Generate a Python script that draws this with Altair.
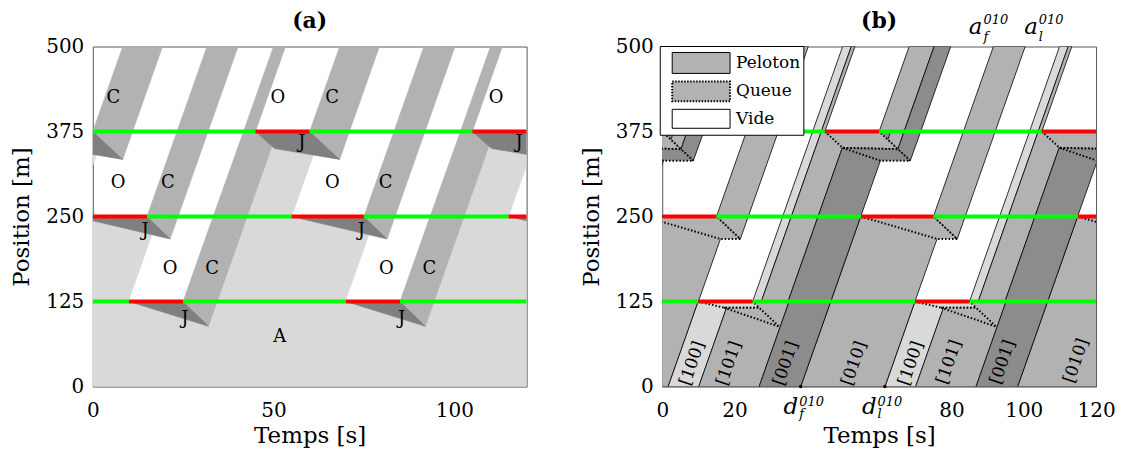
import altair as alt
import pandas as pd

W, H = 435, 341
FONT = "DejaVu Serif"
T_DOM = [0, 120]
P_DOM = [0, 500]

# ---------------- signals (same plan in both panels) ----------------
SIG_POS = [125, 250, 375]
RED_START = [[10, 70], [-5, 55, 115], [-15, 45, 105]]
RED_END = [[25, 85], [15, 75, 135], [0, 60, 120]]

# ---------------- panel (a) regions, vertices as (time s, position m) ----------------
A_LIGHT = [
    [(0, 0), (120, 0), (120, 250), (0, 250)],
    [(42.7, 250), (55, 250), (63.3, 375), (51, 375)],
    [(102.7, 250), (115, 250), (123.3, 375), (111, 375)],
    [(-17.3, 250), (-5, 250), (3.3, 375), (-9, 375)],
]
A_WHITE = [
    [(10, 125), (25, 125), (33.3, 250), (18.3, 250)],
    [(70, 125), (85, 125), (93.3, 250), (78.3, 250)],
]
A_MED = [
    [(25, 125), (32, 88.6), (34.4, 125)],
    [(85, 125), (92, 88.6), (94.4, 125)],
    [(25, 125), (34.4, 125), (42.7, 250), (33.3, 250)],
    [(85, 125), (94.4, 125), (102.7, 250), (93.3, 250)],
    [(15, 250), (21.4, 217), (23.6, 250)],
    [(75, 250), (81.4, 217), (83.6, 250)],
    [(15, 250), (23.6, 250), (31.9, 375), (23.3, 375)],
    [(33.3, 250), (42.7, 250), (51, 375), (41.7, 375)],
    [(75, 250), (83.6, 250), (91.9, 375), (83.3, 375)],
    [(93.3, 250), (102.7, 250), (111, 375), (101.7, 375)],
    [(0, 375), (8.3, 334), (11, 375)],
    [(60, 375), (68.3, 334), (71, 375)],
    [(0, 375), (11, 375), (19.3, 500), (8.3, 500)],
    [(23.3, 375), (31.9, 375), (40.2, 500), (31.6, 500)],
    [(41.7, 375), (45, 375), (53.3, 500), (50, 500)],
    [(60, 375), (71, 375), (79.3, 500), (68.3, 500)],
    [(83.3, 375), (91.9, 375), (100.2, 500), (91.6, 500)],
    [(101.7, 375), (105, 375), (113.3, 500), (110, 500)],
]
A_DARK = [
    [(10, 125), (25, 125), (32, 88.6)],
    [(70, 125), (85, 125), (92, 88.6)],
    [(-5, 250), (15, 250), (21.4, 217)],
    [(55, 250), (75, 250), (81.4, 217)],
    [(115, 250), (135, 250), (141.4, 217)],
    [(-15, 375), (-9.7, 350), (8.3, 334), (0, 375)],
    [(45, 375), (50.3, 350), (68.3, 334), (60, 375)],
    [(105, 375), (110.3, 350), (128.3, 334), (120, 375)],
]
A_LBL = ["C", "O", "C", "O", "O", "C", "O", "C", "J", "J", "J", "J",
         "O", "C", "O", "C", "J", "J", "A"]
A_LBL_T = [5.7, 51.2, 66.2, 111.6, 7.0, 20.8, 66.3, 81.0, 14.5, 74.3, 57.8, 117.9,
           21.4, 33.0, 81.2, 93.1, 25.5, 85.4, 51.7]
A_LBL_P = [424, 424, 424, 424, 299, 299, 299, 299, 229, 229, 358, 358,
           173.5, 173.5, 173.5, 173.5, 100, 100, 72.5]

# ---------------- panel (b) platoons ----------------
B_LIGHT = [  # [100]
    [(1.6, 0), (10.1, 0), (18.4, 125), (9.9, 125)],
    [(61.6, 0), (70.1, 0), (78.4, 125), (69.9, 125)],
    [(25, 125), (26.8, 116), (27.4, 125)],
    [(85, 125), (86.8, 116), (87.4, 125)],
    [(25, 125), (27.4, 125), (35.7, 250), (33.3, 250)],
    [(85, 125), (87.4, 125), (95.7, 250), (93.3, 250)],
    [(33.3, 250), (35.7, 250), (44, 375), (41.6, 375)],
    [(93.3, 250), (95.7, 250), (104, 375), (101.6, 375)],
    [(41.6, 375), (44, 375), (52.3, 500), (49.9, 500)],
    [(101.6, 375), (104, 375), (112.3, 500), (109.9, 500)],
]
B_MED = [  # [010] and [101]
    [(-21.7, 0), (1.6, 0), (9.9, 125), (-13.4, 125)],
    [(38.3, 0), (61.6, 0), (69.9, 125), (46.6, 125)],
    [(98.3, 0), (121.6, 0), (129.9, 125), (106.6, 125)],
    [(10.1, 0), (26.8, 0), (35.1, 125), (18.4, 125)],
    [(70.1, 0), (86.8, 0), (95.1, 125), (78.4, 125)],
    [(-13.4, 125), (10, 125), (18.3, 250), (-5, 250)],
    [(46.6, 125), (69.9, 125), (78.2, 250), (54.9, 250)],
    [(106.6, 125), (129.9, 125), (138.2, 250), (114.9, 250)],
    [(27.4, 125), (34.8, 125), (43.1, 250), (35.7, 250)],
    [(87.4, 125), (94.8, 125), (103.1, 250), (95.7, 250)],
    [(15, 250), (21.6, 217), (23.8, 250)],
    [(75, 250), (81.6, 217), (83.8, 250)],
    [(15, 250), (23.8, 250), (32.1, 375), (23.3, 375)],
    [(75, 250), (83.8, 250), (92.1, 375), (83.3, 375)],
    [(35.7, 250), (43.1, 250), (51.4, 375), (44, 375)],
    [(95.7, 250), (103.1, 250), (111.4, 375), (104, 375)],
    [(0, 375), (5.2, 349), (6.9, 375)],
    [(60, 375), (65.2, 349), (66.9, 375)],
    [(0, 375), (6.9, 375), (15.2, 500), (8.3, 500)],
    [(60, 375), (66.9, 375), (75.2, 500), (68.3, 500)],
    [(44, 375), (45, 375), (53.3, 500), (52.3, 500)],
    [(104, 375), (105, 375), (113.3, 500), (112.3, 500)],
    [(23.3, 375), (32.1, 375), (40.4, 500), (31.6, 500)],
    [(83.3, 375), (92.1, 375), (100.4, 500), (91.6, 500)],
]
B_DARK = [  # [001]
    [(26.8, 0), (38.3, 0), (46.6, 125), (35.1, 125)],
    [(86.8, 0), (98.3, 0), (106.6, 125), (95.1, 125)],
    [(34.8, 125), (46.6, 125), (54.9, 250), (43.1, 250)],
    [(94.8, 125), (106.6, 125), (114.9, 250), (103.1, 250)],
    [(43.1, 250), (54.9, 250), (63.2, 375), (51.4, 375)],
    [(103.1, 250), (114.9, 250), (123.2, 375), (111.4, 375)],
    [(-16.9, 250), (-5.1, 250), (3.2, 375), (-8.6, 375)],
    [(5.2, 349), (8.6, 332), (11.5, 375), (6.9, 375)],
    [(65.2, 349), (68.6, 332), (71.5, 375), (66.9, 375)],
    [(6.9, 375), (11.5, 375), (19.8, 500), (15.2, 500)],
    [(66.9, 375), (71.5, 375), (79.8, 500), (75.2, 500)],
]
# queues (dotted outlines)
BQ_LIGHT = [
    [(10, 125), (17.1, 116), (26.8, 116), (25, 125)],
    [(70, 125), (77.1, 116), (86.8, 116), (85, 125)],
]
BQ_MED = [
    [(17.1, 116), (32.4, 88), (26.8, 116)],
    [(77.1, 116), (92.4, 88), (86.8, 116)],
    [(-5, 250), (16.1, 217), (21.6, 217), (15, 250)],
    [(55, 250), (76.1, 217), (81.6, 217), (75, 250)],
    [(115, 250), (136.1, 217), (141.6, 217), (135, 250)],
    [(-15, 375), (-10.1, 351), (5.2, 349), (0, 375)],
    [(45, 375), (49.9, 351), (65.2, 349), (60, 375)],
    [(105, 375), (109.9, 351), (125.2, 349), (120, 375)],
]
BQ_DARK = [
    [(-10.1, 351), (0.4, 332), (8.6, 332), (5.2, 349)],
    [(49.9, 351), (60.4, 332), (68.6, 332), (65.2, 349)],
    [(109.9, 351), (120.4, 332), (128.6, 332), (125.2, 349)],
]
B_LBL = ["[100]", "[101]", "[001]", "[010]", "[100]", "[101]", "[001]", "[010]"]
B_LBL_T = [8.3, 18.5, 34.2, 53.1, 68.8, 79.4, 94.2, 114.5]
B_LBL_P = [34, 34, 34, 34, 34, 36, 36, 38]

# markers on axes of (b)
D_MARK_T = [38.3, 61.6]
D_TXT_T = [37.6, 59.3]
D_SUB = ["f", "l"]
A_TXT_T = [88.6, 103.9]
A_SUB = ["f", "l"]

PANEL_TITLES = ["(a)", "(b)"]

LIGHT, MED, DARK_A, DARK_B = "#d9d9d9", "#b2b2b2", "#808080", "#8c8c8c"


def poly_df(polys):
    rows = []
    for i, p in enumerate(polys):
        pts = list(p) + [p[0]]
        for k, (t, y) in enumerate(pts):
            rows.append({"pid": i, "k": k, "t": t, "pos": y})
    return pd.DataFrame(rows)


def signal_df():
    rows = []
    for pos, rs, re in zip(SIG_POS, RED_START, RED_END):
        reds = sorted((max(a, 0), min(b, 120)) for a, b in zip(rs, re) if b > 0 and a < 120)
        cur = 0
        for a, b in reds:
            if a > cur:
                rows.append({"t": cur, "t2": a, "pos": pos, "c": "#00ff00"})
            rows.append({"t": a, "t2": b, "pos": pos, "c": "#ff0000"})
            cur = b
        if cur < 120:
            rows.append({"t": cur, "t2": 120, "pos": pos, "c": "#00ff00"})
    return pd.DataFrame(rows)


def x_enc(values):
    return alt.X("t:Q", scale=alt.Scale(domain=T_DOM, nice=False, zero=False),
                 axis=alt.Axis(values=values, title="Temps [s]", ticks=False, domain=False,
                               grid=False, labelFont=FONT, labelFontSize=20, titleFont=FONT,
                               titleFontSize=23, titleFontWeight="normal", labelPadding=14,
                               titlePadding=4, labelFlush=False, labelColor="black",
                               titleColor="black"))


Y_ENC = alt.Y("pos:Q", scale=alt.Scale(domain=P_DOM, nice=False, zero=False),
              axis=alt.Axis(values=[0, 125, 250, 375, 500], title="Position [m]", ticks=False,
                            domain=False, grid=False, labelFont=FONT, labelFontSize=20,
                            titleFont=FONT, titleFontSize=23, titleFontWeight="normal",
                            labelPadding=9, titlePadding=12, labelFlush=False,
                            labelColor="black", titleColor="black"))


def poly_layer(polys, fill, xe, stroke=None, sw=0.6, dash=None):
    kw = dict(fill=fill, stroke=stroke if stroke else fill, strokeWidth=sw, clip=True)
    if dash:
        kw["strokeDash"] = dash
    return alt.Chart(poly_df(polys)).mark_line(**kw).encode(
        x=xe, y=Y_ENC, detail="pid:N", order="k:Q")


def signal_layer(xe):
    return alt.Chart(signal_df()).mark_rule(strokeWidth=4, clip=True).encode(
        x=xe, x2="t2:Q", y=Y_ENC, color=alt.Color("c:N", scale=None))


one = pd.DataFrame({"k": [0]})


def title_layer(txt):
    return alt.Chart(one).mark_text(
        font=FONT, fontSize=22, fontWeight="bold", color="black", align="center",
        baseline="alphabetic", text=txt).encode(x=alt.value(W / 2), y=alt.value(-19))


# ---------------- panel (a) ----------------
xa = x_enc([0, 50, 100])
a_labels = alt.Chart(pd.DataFrame({"t": A_LBL_T, "pos": A_LBL_P, "s": A_LBL})).mark_text(
    font=FONT, fontSize=18, color="black").encode(x=xa, y=Y_ENC, text="s:N")

panel_a = alt.layer(
    poly_layer(A_LIGHT, LIGHT, xa),
    poly_layer(A_WHITE, "white", xa),
    poly_layer(A_MED, MED, xa),
    poly_layer(A_DARK, DARK_A, xa),
    signal_layer(xa),
    a_labels,
    title_layer(PANEL_TITLES[0]),
).properties(width=W, height=H)

# ---------------- panel (b) ----------------
xb = x_enc([0, 20, 80, 100, 120])

b_labels = alt.Chart(pd.DataFrame({"t": B_LBL_T, "pos": B_LBL_P, "s": B_LBL})).mark_text(
    font=FONT, fontSize=17, color="black", angle=289).encode(x=xb, y=Y_ENC, text="s:N")

dots = alt.Chart(pd.DataFrame({"t": D_MARK_T, "pos": [0, 0]})).mark_point(
    filled=True, color="black", size=12, opacity=1).encode(x=xb, y=Y_ENC)

dfd = pd.DataFrame({"t": D_TXT_T, "s": D_SUB, "m": ["d", "d"], "sup": ["010", "010"]})
dfa = pd.DataFrame({"t": A_TXT_T, "s": A_SUB, "m": ["a", "a"], "sup": ["010", "010"]})


def txt(df, field, size, align, yv, dx=0):
    return alt.Chart(df).mark_text(font=FONT, fontSize=size, fontStyle="italic", align=align,
                                   baseline="alphabetic", dx=dx, color="black").encode(
        x=xb, y=alt.value(yv), text=f"{field}:N")


annots = [
    txt(dfd, "m", 23, "right", H + 27),
    txt(dfd, "sup", 13, "left", H + 19, 1),
    txt(dfd, "s", 13, "left", H + 32, 1),
    txt(dfa, "m", 23, "right", -13),
    txt(dfa, "sup", 13, "left", -23, 1),
    txt(dfa, "s", 13, "left", -6, 1),
]


def lrect(x0, x1, y0, y1, fill, dash=None, sw=1):
    kw = dict(fill=fill, stroke="black", strokeWidth=sw)
    if dash:
        kw["strokeDash"] = dash
    return alt.Chart(one).mark_rect(**kw).encode(
        x=alt.value(x0), x2=alt.value(x1), y=alt.value(y0), y2=alt.value(y1))


LEG_TXT = ["Peloton", "Queue", "Vide"]
leg_layers = [
    lrect(-2, 142, 0, 89, "white"),
    lrect(10, 68, 6, 27, MED),
    lrect(10, 68, 35, 55, MED, dash=[1.5, 1.5], sw=2),
    lrect(10, 68, 63, 82, "white"),
]
for i, s in enumerate(LEG_TXT):
    leg_layers.append(alt.Chart(one).mark_text(
        font=FONT, fontSize=17, align="left", baseline="middle", color="black", text=s).encode(
        x=alt.value(74), y=alt.value(17 + 28 * i)))

BS = dict(stroke="black", sw=0.8)
panel_b = alt.layer(
    poly_layer(B_LIGHT, LIGHT, xb, **BS),
    poly_layer(B_MED, MED, xb, **BS),
    poly_layer(B_DARK, DARK_B, xb, **BS),
    poly_layer(BQ_LIGHT, LIGHT, xb, stroke="black", sw=2, dash=[1.5, 2]),
    poly_layer(BQ_MED, MED, xb, stroke="black", sw=2, dash=[1.5, 2]),
    poly_layer(BQ_DARK, DARK_B, xb, stroke="black", sw=2, dash=[1.5, 2]),
    signal_layer(xb),
    b_labels, dots,
    *annots,
    *leg_layers,
    title_layer(PANEL_TITLES[1]),
).properties(width=W, height=H)

chart = alt.hconcat(panel_a, panel_b, spacing=52).properties(
    padding={"left": 2, "top": 0, "right": 2, "bottom": 0}
).configure_view(stroke="#555555", strokeWidth=1)

chart.save("out.html", embed_options={"renderer": "svg", "actions": False})
